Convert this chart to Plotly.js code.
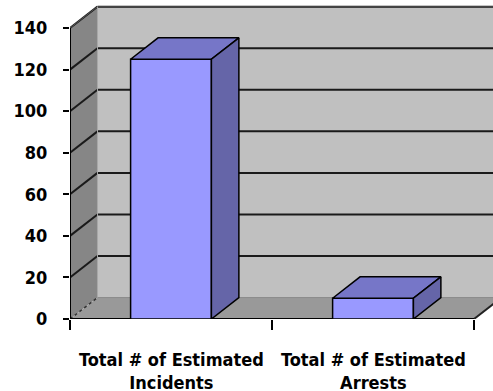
<!DOCTYPE html>
<html>
<head>
<meta charset="utf-8">
<script src="https://cdn.plot.ly/plotly-3.0.1.min.js"></script>
<style>
  html, body { margin: 0; padding: 0; background: #ffffff; }
  #chart { width: 493px; height: 391px; }
</style>
</head>
<body>
<div id="chart"></div>
<script>
// Data
const categories = ['Total # of Estimated<br>Incidents', 'Total # of Estimated<br>Arrests'];
const values = [125, 10];
const yTicks = [0, 20, 40, 60, 80, 100, 120, 140];

// 3D box geometry (in axis units)
const DX = 0.136;          // depth shift along x
const DY = 10.3;           // depth shift along y
const BAR_W = 0.4;         // front face width of each bar
const X_RANGE = [0, 2.094];
const Y_RANGE = [0, 153.5];
const nCat = categories.length;
const wallTop = yTicks[yTicks.length - 1];

const shapes = [];
function path(pts) {
  return 'M ' + pts.map(p => p[0] + ',' + p[1]).join(' L ') + ' Z';
}
function addPoly(pts, fill, line) {
  shapes.push({type: 'path', xref: 'x', yref: 'y', layer: 'below', path: path(pts),
    fillcolor: fill, line: line || {width: 0}});
}
function addLine(x0, y0, x1, y1, color, width, dash) {
  shapes.push({type: 'line', xref: 'x', yref: 'y', layer: 'below', x0, y0, x1, y1,
    line: {color, width, dash: dash || 'solid'}});
}

// back wall
addPoly([[DX, DY], [nCat + DX + 0.2, DY], [nCat + DX + 0.2, wallTop + DY], [DX, wallTop + DY]], '#c0c0c0');
// left side wall
addPoly([[0, 0], [DX, DY], [DX, wallTop + DY], [0, wallTop]], '#868686');
// floor
addPoly([[0, 0], [nCat, 0], [nCat + DX, DY], [DX, DY]], '#999999');

// gridlines on the back wall and the side wall
yTicks.forEach(v => {
  if (v === 0) return;
  addLine(DX, v + DY, nCat + DX + 0.2, v + DY, '#1a1a1a', 2);
  addLine(0, v, DX, v + DY, '#1a1a1a', 2);
});
// wall edges
addLine(DX, wallTop + DY, nCat + DX + 0.2, wallTop + DY, '#444444', 1.5);
addLine(0, wallTop, DX, wallTop + DY, '#555555', 1);
addLine(DX, DY, DX, wallTop + DY, '#a8a8a8', 1);
addLine(DX, DY, nCat + DX, DY, '#888888', 1);
addLine(0, 0, DX, DY, '#333333', 1.5, 'dot');
addLine(nCat, 0, nCat + DX, DY, '#222222', 2);
// front axis lines
addLine(0, 0, 0, wallTop, '#000000', 2);
addLine(0, 0, nCat, 0, '#000000', 2);

const centers = categories.map((c, i) => i + 0.5);

const traces = [{
  type: 'bar',
  x: centers,
  y: values,
  width: BAR_W,
  marker: {color: '#9999ff', line: {color: '#000000', width: 1.5}},
  hoverinfo: 'skip'
}];

values.forEach((v, i) => {
  const x0 = centers[i] - BAR_W / 2, x1 = centers[i] + BAR_W / 2;
  // top face
  traces.push({
    type: 'scatter', mode: 'lines', fill: 'toself', fillcolor: '#7676c8',
    line: {color: '#000000', width: 1.5},
    x: [x0, x1, x1 + DX, x0 + DX, x0],
    y: [v, v, v + DY, v + DY, v],
    hoverinfo: 'skip'
  });
  // right side face
  traces.push({
    type: 'scatter', mode: 'lines', fill: 'toself', fillcolor: '#6565a8',
    line: {color: '#000000', width: 1.5},
    x: [x1, x1 + DX, x1 + DX, x1, x1],
    y: [0, DY, v + DY, v, 0],
    hoverinfo: 'skip'
  });
});

const labelFont = {family: 'DejaVu Sans Condensed, DejaVu Sans, sans-serif', size: 18, color: '#000000', weight: 'bold'};

const annotations = categories.map((c, i) => ({
  xref: 'x', yref: 'paper', x: centers[i], y: 0, yanchor: 'top', yshift: -28,
  text: c, showarrow: false, font: labelFont, align: 'center'
}));

const layout = {
  width: 493, height: 391,
  margin: {l: 70, r: 0, t: 0, b: 72, pad: 0},
  paper_bgcolor: '#ffffff', plot_bgcolor: 'rgba(0,0,0,0)',
  showlegend: false,
  xaxis: {
    range: X_RANGE, showgrid: false, zeroline: false, showline: false,
    tickvals: [0, 1, 2], ticktext: ['', '', ''], ticks: 'outside', ticklen: 10,
    tickwidth: 2, tickcolor: '#000000', fixedrange: true
  },
  yaxis: {
    range: Y_RANGE, showgrid: false, zeroline: false, showline: false,
    tickvals: yTicks, ticks: 'outside', ticklen: 6, tickwidth: 2, tickcolor: '#000000',
    tickfont: labelFont, ticklabelstandoff: 12, fixedrange: true
  },
  shapes, annotations
};

Plotly.newPlot('chart', traces, layout, {staticPlot: true, displayModeBar: false});
</script>
</body>
</html>
